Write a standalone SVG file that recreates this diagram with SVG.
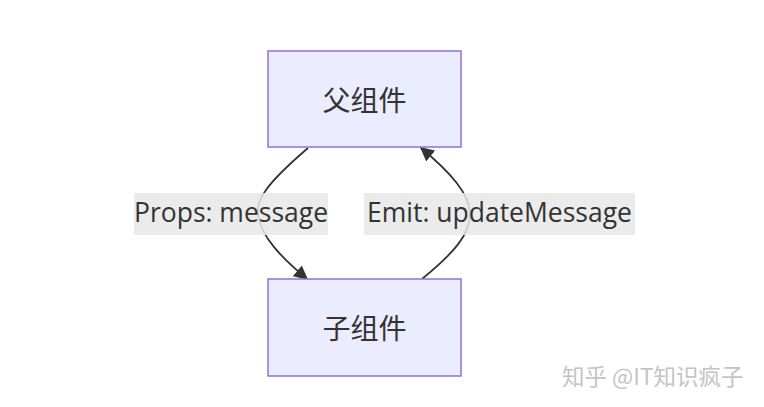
<svg xmlns="http://www.w3.org/2000/svg" width="764" height="407" viewBox="0 0 764 407">
<defs>
<style>
.node rect{fill:#ECECFF;stroke:#9370DB;stroke-width:1.5}
.node text{font-family:"Noto Sans CJK SC","Noto Sans",sans-serif;font-size:28px;fill:#333;text-anchor:middle;dominant-baseline:central}
.edge{fill:none;stroke:#333;stroke-width:1.8}
.lbl rect{fill:rgba(232,232,232,0.85)}
.lbl text{font-family:"Open Sans","Noto Sans",sans-serif;font-size:26.5px;fill:#333;text-anchor:middle;dominant-baseline:central}
.wm{font-family:"Noto Sans CJK SC","Noto Sans",sans-serif;font-size:22.5px;fill:#c4c4c4}
</style>
<marker id="arr" viewBox="0 0 10 10" refX="9" refY="5" markerWidth="14" markerHeight="14" markerUnits="userSpaceOnUse" orient="auto">
<path d="M0,0 L10,5 L0,10 z" fill="#333"/>
</marker>
</defs>
<rect width="764" height="407" fill="#fff"/>
<g id="connectors">
<path class="edge" d="M308,148 C266,184 256,200 258,214 C260,236 282,258 307,279" marker-end="url(#arr)"/>
<path class="edge" d="M422,279 C455,252 470,234 470,214 C470,194 450,172 421,148" marker-end="url(#arr)"/>
</g>
<g id="label-props" class="lbl">
<rect x="134" y="193" width="194" height="42"/>
<text x="231" y="212">Props: message</text>
</g>
<g id="label-emit" class="lbl">
<rect x="364" y="193" width="271" height="42"/>
<text x="499.5" y="212">Emit: updateMessage</text>
</g>
<g id="parent" class="node">
<rect x="268" y="51" width="193" height="96"/>
<text x="364.5" y="99">父组件</text>
</g>
<g id="child" class="node">
<rect x="268" y="279" width="193" height="97"/>
<text x="364.5" y="327">子组件</text>
</g>
<text class="wm" x="562" y="385">知乎 @IT知识疯子</text>
</svg>
